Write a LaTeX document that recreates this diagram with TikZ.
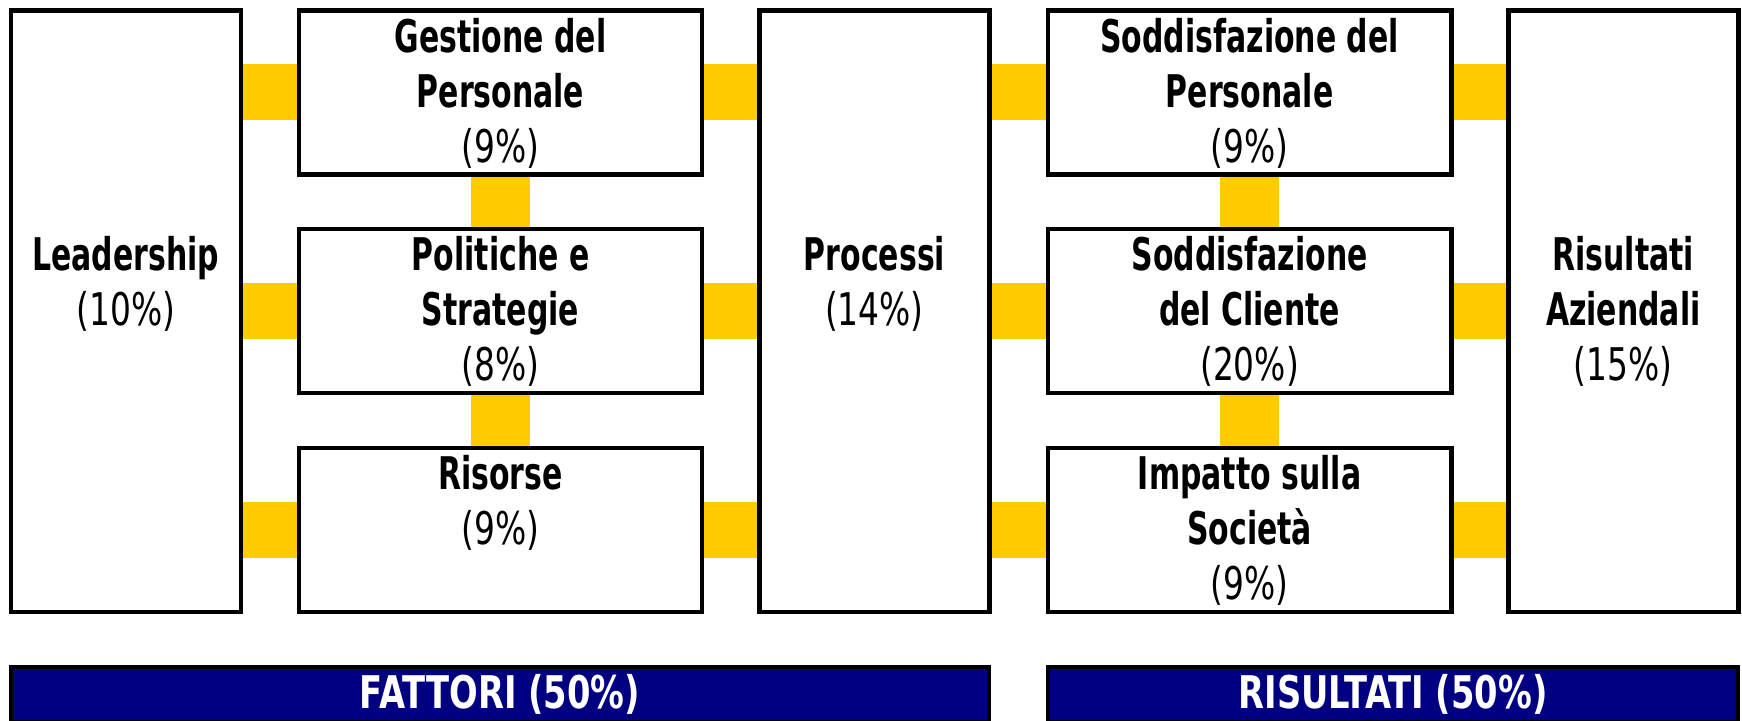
\documentclass[tikz,border=0pt]{standalone}
\usepackage{fontspec}
\setmainfont{DejaVu Sans}[UprightFeatures={FakeStretch=0.73},BoldFeatures={FakeStretch=0.665}]
\newfontfamily\capsfont{DejaVu Sans}[FakeStretch=0.75]
\newcommand\modelfont{\fontsize{22.5pt}{27.5pt}\selectfont}
\definecolor{linkyellow}{HTML}{FFCC00}
\definecolor{barblue}{HTML}{000080}
\begin{document}
\begin{tikzpicture}[x=0.5pt,y=-0.5pt,line width=2.2pt,
  tall/.style={draw,fill=white,minimum width=115pt,minimum height=300.75pt,inner sep=0pt},
  small/.style={draw,fill=white,minimum width=201.75pt,minimum height=82pt,inner sep=0pt},
  txt/.style={anchor=north,align=center,inner sep=0pt,font=\modelfont\bfseries,yshift=-3.8pt},
  bar/.style={draw,fill=barblue,text=white,font=\modelfont\capsfont\bfseries,minimum height=27.5pt,inner sep=0pt},
  hlink/.style={draw=linkyellow,line width=28pt},
  vlink/.style={draw=linkyellow,line width=29.5pt}]
\useasboundingbox (0,0) rectangle (1742,721);
% boxes
\node[tall]  (lead)   at (125.75,311.25) {};
\node[small] (gest)   at (500.5,92.5) {};
\node[small] (pol)    at (500.5,311) {};
\node[small] (ris)    at (500.5,530) {};
\node[tall]  (proc)   at (874.5,311.25) {};
\node[small] (soddp)  at (1249.6,92.5) {};
\node[small] (soddc)  at (1249.6,311) {};
\node[small] (imp)    at (1249.6,530) {};
\node[tall]  (risult) at (1623.3,311.25) {};
% texts
\node[txt] (leadT)   at (lead.north |- pol.north) {Leadership\\\mdseries(10\%)};
\node[txt] (gestT)   at (gest.north)  {Gestione del\\Personale\\\mdseries(9\%)};
\node[txt] (polT)    at (pol.north)   {Politiche e\\Strategie\\\mdseries(8\%)};
\node[txt] (risT)    at (ris.north)   {Risorse\\\mdseries(9\%)};
\node[txt] (procT)   at (proc.north |- pol.north) {Processi\\\mdseries(14\%)};
\node[txt] (soddpT)  at (soddp.north) {Soddisfazione del\\Personale\\\mdseries(9\%)};
\node[txt] (soddcT)  at (soddc.north) {Soddisfazione\\del Cliente\\\mdseries(20\%)};
\node[txt] (impT)    at (imp.north)   {Impatto sulla\\Società\\\mdseries(9\%)};
\node[txt] (risultT) at (risult.north |- pol.north) {Risultati\\Aziendali\\\mdseries(15\%)};
% links
\foreach \s in {gest,pol,ris}
{
  \draw[hlink] (\s.west) -- (\s.west -| lead.east);
  \draw[hlink] (\s.east) -- (\s.east -| proc.west);
}
\foreach \s in {soddp,soddc,imp}
{
  \draw[hlink] (\s.west) -- (\s.west -| proc.east);
  \draw[hlink] (\s.east) -- (\s.east -| risult.west);
}
\foreach \a/\b in {gest/pol,pol/ris,soddp/soddc,soddc/imp}
  \draw[vlink] (\a.south) -- (\b.north);
% bars
\node[bar,minimum width=489pt] (fatt)   at (500,694.5)  {FATTORI (50\%)};
\node[bar,minimum width=345pt] (risbar) at (1393,694.5) {RISULTATI (50\%)};
\end{tikzpicture}
\end{document}
